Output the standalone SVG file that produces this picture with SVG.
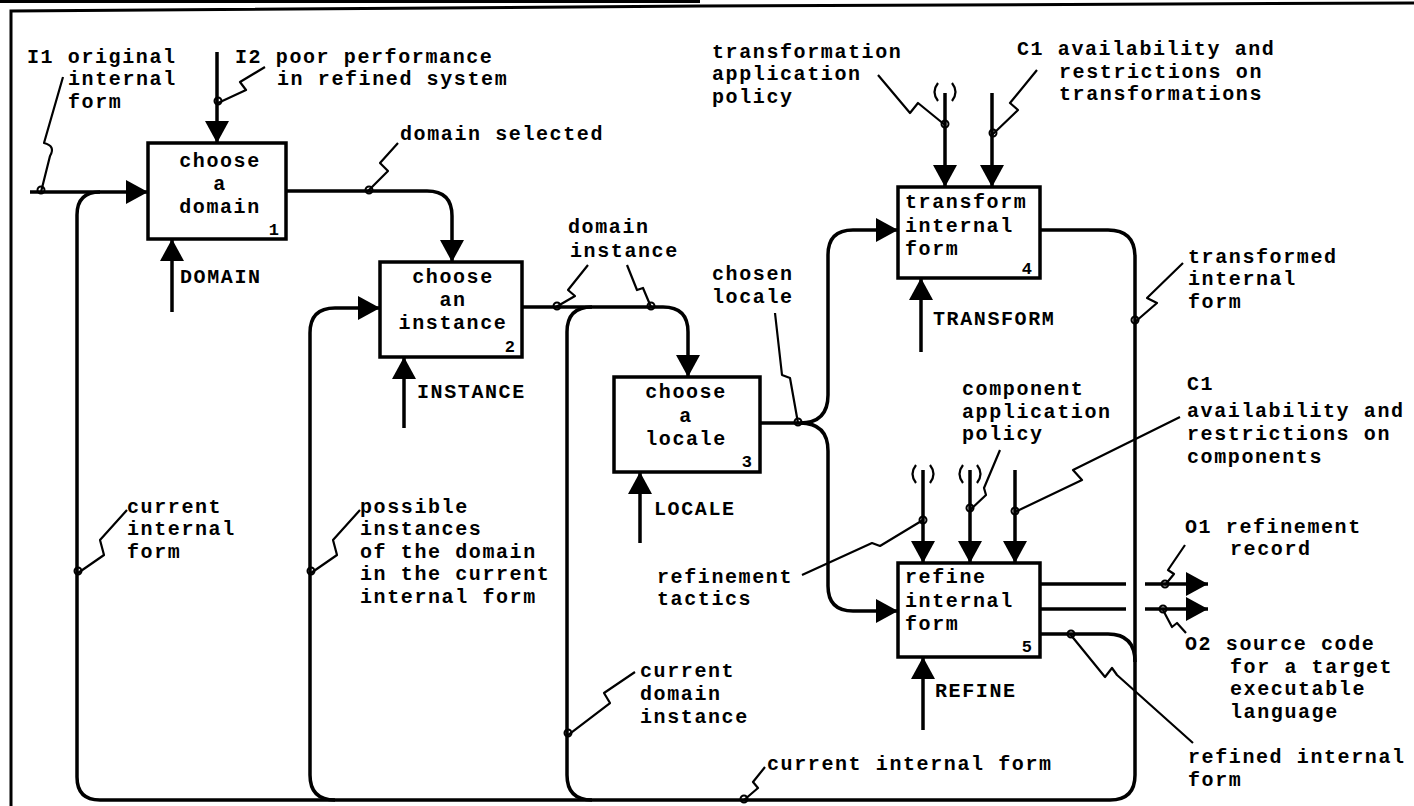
<svg xmlns="http://www.w3.org/2000/svg" width="1414" height="806" viewBox="0 0 1414 806">
<defs>
<marker id="ah" markerUnits="userSpaceOnUse" markerWidth="24" markerHeight="24" refX="22" refY="12" orient="auto" viewBox="0 0 24 24">
<path d="M0,0 L22,12 L0,24 z" fill="#000"/>
</marker>
</defs>
<style>
text{font-family:"Liberation Mono","DejaVu Sans Mono",monospace;font-size:20px;letter-spacing:1.6px;font-weight:bold;fill:#000}
.num{font-size:17px;letter-spacing:0}
.box{fill:#fff;stroke:#000;stroke-width:3.5}
.ln{fill:none;stroke:#000;stroke-width:3.5}
.ar{fill:none;stroke:#000;stroke-width:3.5;marker-end:url(#ah)}
.sq{fill:none;stroke:#000;stroke-width:2.2;stroke-linejoin:round}
.dot{fill:none;stroke:#000;stroke-width:2}
.fr{fill:none;stroke:#000;stroke-width:3}
</style>
<rect width="1414" height="806" fill="#fff"/>
<g id="frame">
<path class="fr" d="M0,1.5 H700"/>
<path class="fr" d="M11,806 V11 L700,6 L1414,3"/>
</g>
<g id="connectors">
<path class="ar" d="M30,192 H148"/>
<path class="ar" d="M217,52 V143"/>
<path class="ar" d="M172,312 V239"/>
<path class="ar" d="M286,191 H427 Q452,191 452,216 V262"/>
<path class="ar" d="M335,800 Q310,800 310,775 V333 Q310,308 335,308 H380"/>
<path class="ar" d="M404,428 V357"/>
<path class="ar" d="M522,307 H663 Q688,307 688,332 V377"/>
<path class="ln" d="M592,800 Q567,800 567,775 V332 Q567,307 592,307"/>
<path class="ar" d="M640,543 V472"/>
<path class="ar" d="M760,423 H800 Q828,423 828,395 V255 Q828,230 853,230 H898"/>
<path class="ar" d="M800,423 Q828,423 828,451 V586 Q828,611 853,611 H898"/>
<path class="ar" d="M945,93 V187"/>
<path class="ar" d="M992,93 V187"/>
<path class="ar" d="M921,352 V278"/>
<path class="ln" d="M1040,230 H1108 Q1135,230 1135,257 V775 Q1135,800 1110,800 H100 Q77,800 77,777 V215 Q77,192 100,192"/>
<path class="ar" d="M923,470 V563"/>
<path class="ar" d="M970,470 V563"/>
<path class="ar" d="M1015,470 V563"/>
<path class="ar" d="M923,730 V657"/>
<path class="ln" d="M1040,584 H1126"/>
<path class="ar" d="M1145,584 H1208"/>
<path class="ln" d="M1040,609 H1126"/>
<path class="ar" d="M1145,609 H1208"/>
<path class="ln" d="M1040,634 H1108 Q1135,634 1135,662"/>
<path class="sq" d="M938,83 Q931,92 938,101 M952,83 Q959,92 952,101"/>
<path class="sq" d="M916,465 Q909,474 916,483 M930,465 Q937,474 930,483"/>
<path class="sq" d="M963,465 Q956,474 963,483 M977,465 Q984,474 977,483"/>
<path class="sq" d="M63,77 L44,143 Q56,146 50,156 L41,192"/>
<path class="sq" d="M265,67 L240,82 L246,90 L218,103"/>
<path class="sq" d="M398,143 L380,163 L388,171 L368,191"/>
<path class="sq" d="M588,265 L568,290 L575,296 L556,307"/>
<path class="sq" d="M627,265 L637,290 L643,288 L651,307"/>
<path class="sq" d="M775,313 L782,375 L790,378 L798,423"/>
<path class="sq" d="M878,75 L910,113 L918,103 L945,125"/>
<path class="sq" d="M1037,70 L1010,103 L1018,110 L992,135"/>
<path class="sq" d="M1183,263 L1147,298 L1157,303 L1135,322"/>
<path class="sq" d="M127,510 L100,540 L104,555 L78,573"/>
<path class="sq" d="M360,510 L333,540 L337,555 L311,573"/>
<path class="sq" d="M635,672 L604,693 L610,703 L568,735"/>
<path class="sq" d="M765,767 L753,782 L758,788 L744,800"/>
<path class="sq" d="M802,575 L872,543 L880,546 L923,520"/>
<path class="sq" d="M1000,450 L984,488 L986,495 L970,510"/>
<path class="sq" d="M1180,417 L1073,470 L1082,480 L1015,512"/>
<path class="sq" d="M1185,545 L1168,570 L1174,574 L1165,585"/>
<path class="sq" d="M1163,610 L1172,627 L1177,623 L1186,633"/>
<path class="sq" d="M1193,743 L1117,675 L1112,668 L1105,677 L1070,634"/>
<g class="dots">
<circle class="dot" cx="41" cy="190" r="3.5"/>
<circle class="dot" cx="218" cy="101" r="3.5"/>
<circle class="dot" cx="369" cy="190" r="3.5"/>
<circle class="dot" cx="557" cy="306" r="3.5"/>
<circle class="dot" cx="651" cy="306" r="3.5"/>
<circle class="dot" cx="798" cy="422" r="3.5"/>
<circle class="dot" cx="945" cy="124" r="3.5"/>
<circle class="dot" cx="993" cy="133" r="3.5"/>
<circle class="dot" cx="1135" cy="320" r="3.5"/>
<circle class="dot" cx="78" cy="571" r="3.5"/>
<circle class="dot" cx="311" cy="571" r="3.5"/>
<circle class="dot" cx="568" cy="733" r="3.5"/>
<circle class="dot" cx="744" cy="799" r="3.5"/>
<circle class="dot" cx="923" cy="520" r="3.5"/>
<circle class="dot" cx="970" cy="508" r="3.5"/>
<circle class="dot" cx="1015" cy="511" r="3.5"/>
<circle class="dot" cx="1165" cy="584" r="3.5"/>
<circle class="dot" cx="1163" cy="609" r="3.5"/>
<circle class="dot" cx="1071" cy="634" r="3.5"/>
</g>
</g>
<g id="n1">
<rect class="box" x="148" y="143" width="138" height="96"/>
<text x="220" y="167" text-anchor="middle">choose</text>
<text x="220" y="190" text-anchor="middle">a</text>
<text x="220" y="213" text-anchor="middle">domain</text>
<text class="num" x="279" y="235" text-anchor="end">1</text>
</g>
<g id="n2">
<rect class="box" x="380" y="262" width="142" height="95"/>
<text x="453" y="283" text-anchor="middle">choose</text>
<text x="453" y="306" text-anchor="middle">an</text>
<text x="453" y="329" text-anchor="middle">instance</text>
<text class="num" x="515" y="352" text-anchor="end">2</text>
</g>
<g id="n3">
<rect class="box" x="614" y="377" width="146" height="95"/>
<text x="686" y="398" text-anchor="middle">choose</text>
<text x="686" y="422" text-anchor="middle">a</text>
<text x="686" y="445" text-anchor="middle">locale</text>
<text class="num" x="752" y="467" text-anchor="end">3</text>
</g>
<g id="n4">
<rect class="box" x="898" y="187" width="142" height="91"/>
<text x="905" y="208">transform</text>
<text x="905" y="232">internal</text>
<text x="905" y="255">form</text>
<text class="num" x="1032" y="274" text-anchor="end">4</text>
</g>
<g id="n5">
<rect class="box" x="898" y="563" width="142" height="94"/>
<text x="905" y="583">refine</text>
<text x="905" y="607">internal</text>
<text x="905" y="630">form</text>
<text class="num" x="1032" y="652" text-anchor="end">5</text>
</g>
<g id="labels">
<text x="27" y="63">I1 original</text>
<text x="68" y="85">internal</text>
<text x="68" y="108">form</text>
<text x="235" y="63">I2 poor performance</text>
<text x="277" y="85">in refined system</text>
<text x="400" y="140">domain selected</text>
<text x="568" y="233">domain</text>
<text x="570" y="257">instance</text>
<text x="712" y="58">transformation</text>
<text x="712" y="80">application</text>
<text x="712" y="103">policy</text>
<text x="1017" y="55">C1 availability and</text>
<text x="1059" y="78">restrictions on</text>
<text x="1059" y="100">transformations</text>
<text x="712" y="280">chosen</text>
<text x="712" y="303">locale</text>
<text x="1188" y="263">transformed</text>
<text x="1188" y="285">internal</text>
<text x="1188" y="308">form</text>
<text x="180" y="283">DOMAIN</text>
<text x="417" y="398">INSTANCE</text>
<text x="654" y="515">LOCALE</text>
<text x="933" y="325">TRANSFORM</text>
<text x="935" y="697">REFINE</text>
<text x="962" y="395">component</text>
<text x="962" y="418">application</text>
<text x="962" y="440">policy</text>
<text x="1187" y="390">C1</text>
<text x="1187" y="417">availability and</text>
<text x="1187" y="440">restrictions on</text>
<text x="1187" y="463">components</text>
<text x="127" y="513">current</text>
<text x="127" y="535">internal</text>
<text x="127" y="558">form</text>
<text x="360" y="513">possible</text>
<text x="360" y="535">instances</text>
<text x="360" y="558">of the domain</text>
<text x="360" y="580">in the current</text>
<text x="360" y="603">internal form</text>
<text x="657" y="583">refinement</text>
<text x="657" y="605">tactics</text>
<text x="1185" y="533">O1 refinement</text>
<text x="1230" y="555">record</text>
<text x="1185" y="650">O2 source code</text>
<text x="1230" y="673">for a target</text>
<text x="1230" y="695">executable</text>
<text x="1230" y="718">language</text>
<text x="640" y="677">current</text>
<text x="640" y="700">domain</text>
<text x="640" y="723">instance</text>
<text x="767" y="770">current internal form</text>
<text x="1188" y="763">refined internal</text>
<text x="1188" y="786">form</text>
</g>
</svg>
